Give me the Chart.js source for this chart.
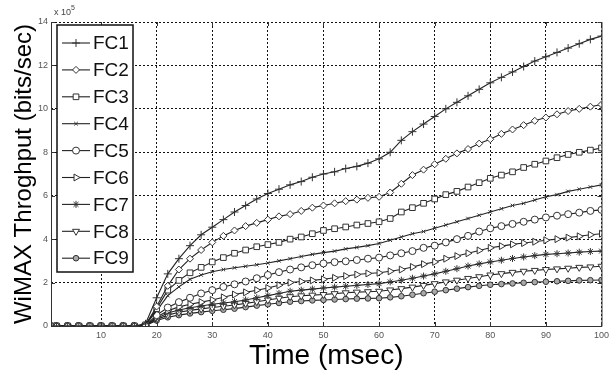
<!DOCTYPE html>
<html>
<head>
<meta charset="utf-8">
<script src="https://cdn.jsdelivr.net/npm/chart.js@4.4.0/dist/chart.umd.min.js"></script>
<style>
  html, body { margin: 0; padding: 0; background: #fff; }
</style>
</head>
<body>
<canvas id="throughputChart" width="613" height="379"></canvas>
<script>
// time axis (msec)
const timeMs = [1, 2, 4, 6, 8, 10, 12, 14, 16,
    18, 20, 22, 24, 26, 28, 30, 32, 34, 36, 38, 40, 42, 44, 46, 48, 50, 52, 54, 56, 58,
    60, 62, 64, 66, 68, 70, 72, 74, 76, 78, 80, 82, 84, 86, 88, 90, 92, 94, 96, 98, 100];

// throughput, in units of 10^5 bits/sec
const fc1 = [0, 0, 0, 0, 0, 0, 0, 0, 0,
    0.1, 1.3, 2.4, 3.1, 3.7, 4.2, 4.55, 4.9, 5.25, 5.55, 5.85, 6.1, 6.3, 6.5, 6.65, 6.85, 7.0, 7.1, 7.25, 7.35, 7.5,
    7.7, 8.0, 8.55, 8.95, 9.3, 9.65, 10.0, 10.3, 10.6, 10.9, 11.2, 11.45, 11.7, 11.95, 12.2, 12.4, 12.6, 12.8, 13.0, 13.2, 13.35];
const fc2 = [0, 0, 0, 0, 0, 0, 0, 0, 0,
    0.05, 0.9, 1.85, 2.6, 3.1, 3.5, 3.85, 4.15, 4.4, 4.6, 4.75, 4.9, 5.05, 5.15, 5.3, 5.45, 5.55, 5.65, 5.75, 5.82, 5.9,
    5.95, 6.15, 6.55, 6.95, 7.2, 7.45, 7.7, 7.95, 8.15, 8.4, 8.6, 8.85, 9.05, 9.25, 9.45, 9.6, 9.75, 9.9, 10.0, 10.1, 10.2];
const fc3 = [0, 0, 0, 0, 0, 0, 0, 0, 0,
    0.05, 0.8, 1.65, 2.1, 2.45, 2.7, 2.95, 3.15, 3.35, 3.5, 3.65, 3.75, 3.85, 4.0, 4.1, 4.25, 4.4, 4.48, 4.56, 4.65, 4.72,
    4.8, 4.95, 5.25, 5.45, 5.65, 5.85, 6.05, 6.2, 6.4, 6.6, 6.8, 6.95, 7.1, 7.3, 7.45, 7.6, 7.75, 7.9, 8.0, 8.1, 8.2];
const fc4 = [0, 0, 0, 0, 0, 0, 0, 0, 0,
    0.05, 0.7, 1.4, 1.8, 2.15, 2.35, 2.5, 2.6, 2.68, 2.75, 2.82, 2.9, 3.0, 3.1, 3.2, 3.3, 3.38, 3.45, 3.55, 3.62, 3.7,
    3.8, 3.95, 4.1, 4.25, 4.35, 4.5, 4.65, 4.8, 4.95, 5.1, 5.25, 5.4, 5.55, 5.65, 5.8, 5.95, 6.05, 6.2, 6.3, 6.4, 6.5];
const fc5 = [0, 0, 0, 0, 0, 0, 0, 0, 0,
    0.03, 0.5, 0.85, 1.1, 1.3, 1.5, 1.65, 1.8, 1.92, 2.05, 2.2, 2.35, 2.48, 2.6, 2.7, 2.8, 2.88, 2.94, 2.98, 3.04, 3.1,
    3.15, 3.25, 3.35, 3.45, 3.6, 3.7, 3.85, 4.0, 4.15, 4.35, 4.5, 4.6, 4.7, 4.8, 4.9, 5.0, 5.08, 5.15, 5.22, 5.3, 5.35];
const fc6 = [0, 0, 0, 0, 0, 0, 0, 0, 0,
    0.02, 0.4, 0.7, 0.88, 1.0, 1.1, 1.2, 1.32, 1.45, 1.55, 1.65, 1.75, 1.88, 2.0, 2.05, 2.1, 2.15, 2.22, 2.3, 2.37, 2.42,
    2.45, 2.52, 2.6, 2.72, 2.85, 2.95, 3.1, 3.22, 3.35, 3.48, 3.6, 3.68, 3.76, 3.82, 3.88, 3.95, 4.0, 4.07, 4.13, 4.2, 4.25];
const fc7 = [0, 0, 0, 0, 0, 0, 0, 0, 0,
    0.02, 0.35, 0.6, 0.74, 0.84, 0.92, 1.0, 1.06, 1.12, 1.2, 1.3, 1.4, 1.5, 1.6, 1.65, 1.7, 1.75, 1.79, 1.83, 1.87, 1.91,
    1.95, 2.03, 2.11, 2.2, 2.3, 2.4, 2.52, 2.64, 2.76, 2.86, 2.95, 3.03, 3.11, 3.18, 3.24, 3.3, 3.33, 3.36, 3.4, 3.43, 3.45];
const fc8 = [0, 0, 0, 0, 0, 0, 0, 0, 0,
    0.02, 0.3, 0.5, 0.63, 0.72, 0.79, 0.85, 0.91, 0.97, 1.04, 1.12, 1.2, 1.28, 1.35, 1.39, 1.42, 1.45, 1.49, 1.53, 1.56, 1.58,
    1.6, 1.66, 1.72, 1.79, 1.87, 1.95, 2.03, 2.11, 2.19, 2.27, 2.35, 2.41, 2.47, 2.52, 2.56, 2.6, 2.63, 2.66, 2.7, 2.72, 2.75];
const fc9 = [0, 0, 0, 0, 0, 0, 0, 0, 0,
    0.02, 0.25, 0.4, 0.5, 0.58, 0.64, 0.7, 0.75, 0.8, 0.87, 0.94, 1.0, 1.06, 1.12, 1.15, 1.18, 1.2, 1.22, 1.24, 1.26, 1.27,
    1.28, 1.32, 1.37, 1.44, 1.51, 1.58, 1.65, 1.72, 1.79, 1.85, 1.9, 1.93, 1.96, 1.99, 2.02, 2.04, 2.06, 2.08, 2.1, 2.11, 2.12];

const seriesNames = ['FC1', 'FC2', 'FC3', 'FC4', 'FC5', 'FC6', 'FC7', 'FC8', 'FC9'];
const seriesValues = [fc1, fc2, fc3, fc4, fc5, fc6, fc7, fc8, fc9];
const xTicks = [10, 20, 30, 40, 50, 60, 70, 80, 90, 100];
const yTicks = [0, 2, 4, 6, 8, 10, 12, 14];

// marker look per flow (matlab style markers)
const markers = [
    { pointStyle: 'cross', radius: 4, rotation: 0, fill: '#fff' },
    { pointStyle: 'rectRot', radius: 3.5, rotation: 0, fill: '#fff' },
    { pointStyle: 'rect', radius: 4, rotation: 0, fill: '#fff' },
    { pointStyle: 'crossRot', radius: 2.5, rotation: 0, fill: '#fff' },
    { pointStyle: 'circle', radius: 3.5, rotation: 0, fill: '#fff' },
    { pointStyle: 'triangle', radius: 4, rotation: 90, fill: '#fff' },
    { pointStyle: 'star', radius: 3.5, rotation: 0, fill: '#fff' },
    { pointStyle: 'triangle', radius: 4, rotation: 180, fill: '#fff' },
    { pointStyle: 'circle', radius: 2.8, rotation: 0, fill: '#aaa' }
];

const datasets = seriesNames.map((name, i) => ({
    label: name,
    data: timeMs.map((t, j) => ({ x: t, y: seriesValues[i][j] })),
    borderColor: '#222',
    borderWidth: 1.1,
    pointStyle: markers[i].pointStyle,
    pointRadius: markers[i].radius,
    pointRotation: markers[i].rotation,
    pointBackgroundColor: markers[i].fill,
    pointBorderColor: '#333',
    pointBorderWidth: 1,
    tension: 0
}));

// box, inward ticks, x10^5 note and the boxed legend
const matlabFrame = {
    id: 'matlabFrame',
    afterDatasetsDraw(chart) {
        const ctx = chart.ctx;
        const area = chart.chartArea;
        const xs = chart.scales.x;
        const ys = chart.scales.y;
        ctx.save();

        // frame
        ctx.strokeStyle = '#333';
        ctx.lineWidth = 1;
        ctx.beginPath();
        ctx.moveTo(area.left + 0.5, area.top);
        ctx.lineTo(area.left + 0.5, area.bottom + 0.5);
        ctx.lineTo(area.right + 0.5, area.bottom + 0.5);
        ctx.lineTo(area.right + 0.5, area.top);
        ctx.stroke();

        // inward tick marks
        ctx.beginPath();
        xTicks.forEach(v => {
            const px = Math.round(xs.getPixelForValue(v)) + 0.5;
            ctx.moveTo(px, area.bottom);
            ctx.lineTo(px, area.bottom - 4);
            ctx.moveTo(px, area.top);
            ctx.lineTo(px, area.top + 4);
        });
        yTicks.forEach(v => {
            const py = Math.round(ys.getPixelForValue(v)) + 0.5;
            ctx.moveTo(area.left, py);
            ctx.lineTo(area.left + 4, py);
            ctx.moveTo(area.right, py);
            ctx.lineTo(area.right - 4, py);
        });
        ctx.stroke();

        // exponent note
        ctx.fillStyle = '#444';
        ctx.textBaseline = 'alphabetic';
        ctx.textAlign = 'left';
        ctx.font = '9px "Liberation Sans", Arial, sans-serif';
        ctx.fillText('x 10', area.left + 3, area.top - 7);
        ctx.font = '7px "Liberation Sans", Arial, sans-serif';
        ctx.fillText('5', area.left + 20, area.top - 12);

        // legend box
        const lx = area.left + 6;
        const ly = area.top + 3;
        const lw = 76;
        const lh = 247;
        ctx.fillStyle = '#fff';
        ctx.fillRect(lx, ly, lw, lh);
        ctx.strokeStyle = '#111';
        ctx.lineWidth = 1.5;
        ctx.strokeRect(lx, ly, lw, lh);

        const drawPoint = Chart.helpers && Chart.helpers.drawPoint;
        chart.data.datasets.forEach((ds, i) => {
            const cy = ly + 18 + i * 26.9;
            ctx.strokeStyle = '#222';
            ctx.lineWidth = 1.1;
            ctx.beginPath();
            ctx.moveTo(lx + 5, cy);
            ctx.lineTo(lx + 33, cy);
            ctx.stroke();
            if (drawPoint) {
                ctx.fillStyle = markers[i].fill;
                ctx.strokeStyle = '#333';
                ctx.lineWidth = 1;
                drawPoint(ctx, {
                    pointStyle: markers[i].pointStyle,
                    rotation: markers[i].rotation,
                    radius: markers[i].radius,
                    borderWidth: 1
                }, lx + 19, cy);
            }
            ctx.fillStyle = '#111';
            ctx.font = '19px "Liberation Sans", Arial, sans-serif';
            ctx.textBaseline = 'middle';
            ctx.textAlign = 'left';
            ctx.fillText(ds.label, lx + 36, cy + 1);
        });
        ctx.restore();
    }
};

const ctx = document.getElementById('throughputChart').getContext('2d');
new Chart(ctx, {
    type: 'line',
    data: { datasets: datasets },
    plugins: [matlabFrame],
    options: {
        responsive: false,
        animation: false,
        layout: { padding: { top: 22, right: 11, left: 0, bottom: 0 } },
        plugins: {
            legend: { display: false },
            tooltip: { enabled: false }
        },
        scales: {
            x: {
                type: 'linear',
                min: 1,
                max: 100,
                afterBuildTicks: scale => { scale.ticks = xTicks.map(v => ({ value: v })); },
                afterFit: scale => { scale.height = 53; },
                grid: {
                    color: '#111',
                    lineWidth: 1,
                    drawTicks: false
                },
                border: { display: false, dash: [2, 2] },
                ticks: {
                    color: '#555',
                    padding: 4,
                    maxRotation: 0,
                    font: { family: '"Liberation Sans", Arial, sans-serif', size: 9 }
                },
                title: {
                    display: true,
                    text: 'Time (msec)',
                    color: '#000',
                    padding: { top: 0, bottom: 9 },
                    font: { family: '"Liberation Sans", Arial, sans-serif', size: 28, lineHeight: 1 }
                }
            },
            y: {
                min: 0,
                max: 14,
                afterBuildTicks: scale => { scale.ticks = yTicks.map(v => ({ value: v })); },
                afterFit: scale => { scale.width = 51; },
                grid: {
                    color: '#111',
                    lineWidth: 1,
                    drawTicks: false
                },
                border: { display: false, dash: [2, 2] },
                ticks: {
                    color: '#555',
                    padding: 3,
                    font: { family: '"Liberation Sans", Arial, sans-serif', size: 9 }
                },
                title: {
                    display: true,
                    text: 'WiMAX Throghput (bits/sec)',
                    color: '#000',
                    padding: { top: 12, bottom: 0 },
                    font: { family: '"Liberation Sans", Arial, sans-serif', size: 24, lineHeight: 1 }
                }
            }
        }
    }
});
</script>
</body>
</html>
